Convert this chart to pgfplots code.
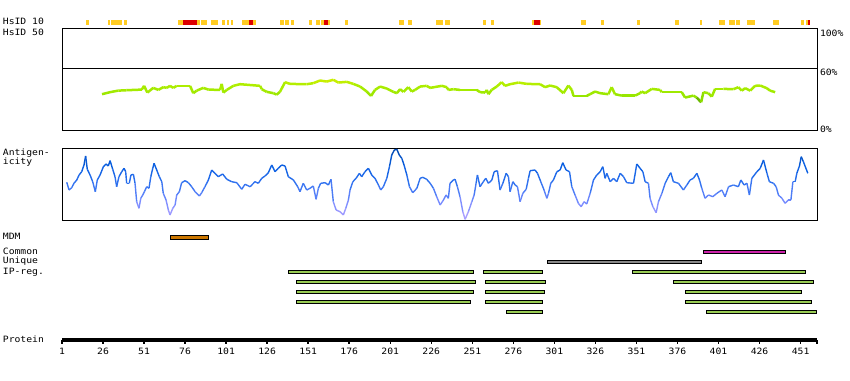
\documentclass[border=0pt]{standalone}
\usepackage{fontspec}
\setmainfont{DejaVu Sans Mono}[FakeStretch=1.12]
\usepackage{pgfplots}
\usepackage{pgfplotstable}
\pgfplotsset{compat=1.18}
\definecolor{hsy}{RGB}{255,204,34}
\definecolor{hsr}{RGB}{221,0,0}
\definecolor{mdm}{RGB}{204,119,0}
\definecolor{common}{RGB}{204,34,170}
\definecolor{unique}{RGB}{136,136,136}
\definecolor{ipreg}{RGB}{153,204,85}
\pgfplotsset{
  colormap={idmap}{rgb255(0cm)=(70,150,0) rgb255(1cm)=(150,230,0) rgb255(3cm)=(175,238,0) rgb255(4cm)=(212,240,0)},
  colormap={agmap}{rgb255(0cm)=(185,165,255) rgb255(1cm)=(120,140,255) rgb255(2cm)=(50,115,240) rgb255(3cm)=(10,95,225) rgb255(4cm)=(0,70,170)}
}
\newcommand\lbl{\fontsize{8.7}{9}\selectfont}
\newcommand\seg[5]{\addplot[draw=black, line width=0.9pt, fill=#5] coordinates {(#1,#3) (#2,#3) (#2,#4) (#1,#4)} -- cycle;}
\newcommand\hs[3]{\addplot[draw=none, fill=#3] coordinates {(#1,0) (#2,0) (#2,1) (#1,1)} -- cycle;}

\pgfplotstableread{
r p
25.4 35.1
30.3 37.1
35.3 38.6
40.4 39.0
49.6 39.6
51.0 43.3
53.0 36.7
56.6 41.3
59.7 39.3
62.7 42.0
64.8 41.3
66.8 43.3
68.8 41.3
70.9 43.3
79.0 43.3
81.0 36.1
83.1 38.6
87.1 41.3
90.2 39.6
97.3 39.3
98.3 45.2
99.3 36.7
101.4 39.3
105.4 43.3
109.5 44.9
121.7 43.3
122.7 40.0
125.7 37.4
129.8 36.1
131.8 34.7
133.8 37.4
136.9 46.9
139.9 45.2
150.1 44.9
154.1 45.9
158.2 48.5
162.3 47.5
166.3 49.2
169.4 46.5
174.5 47.2
178.5 45.2
182.6 42.6
186.7 37.7
189.3 33.4
191.7 39.3
194.8 42.6
198.9 40.6
202.9 37.4
205.0 36.1
207.0 40.0
209.0 37.4
212.0 42.0
214.1 37.7
216.1 39.3
219.2 42.6
223.2 43.3
225.3 41.3
232.4 43.3
235.4 42.0
236.4 39.3
239.5 40.0
243.5 39.3
253.7 39.3
255.7 37.1
258.8 36.7
259.8 39.3
260.8 35.1
262.8 39.3
265.9 42.6
268.9 46.9
270.9 43.3
274.0 44.9
279.1 46.5
284.2 45.2
292.3 44.9
295.3 42.0
298.4 43.6
302.4 42.0
306.5 36.1
309.5 43.6
311.6 39.3
312.6 33.4
320.7 33.4
322.7 35.1
325.8 37.7
328.8 36.1
333.9 35.1
335.9 42.0
337.9 35.1
342.1 33.7
350.2 33.7
353.2 36.1
354.2 37.7
356.3 36.1
360.3 40.3
365.4 39.3
366.4 37.1
378.6 37.1
380.6 31.8
385.7 33.7
387.7 31.8
390.4 27.2
391.8 37.1
394.8 36.1
396.9 32.7
398.9 40.3
404.0 40.3
410.1 40.0
413.1 42.0
415.2 38.6
417.2 41.0
420.3 38.6
423.3 43.3
426.4 43.6
430.4 41.0
432.4 38.6
435.5 37.1
}\identity

\pgfplotstableread{
r v
3.9 37.7
5.3 30
6.9 32.3
8.3 36.7
10.0 40
11.4 45
13.0 48.3
14.4 55
15.4 64
16.4 50.7
18.1 45
19.7 38.3
21.3 28.3
22.5 40
24.2 45
26.2 53.3
27.8 56
29.2 54
30.3 59.3
31.9 50.7
33.3 43.3
34.3 33.3
35.7 43.3
37.4 48.3
38.8 51.7
39.8 48.3
40.4 36.7
42.0 36.7
43.0 45
44.5 45.7
45.5 36.7
46.5 18.3
47.9 11.7
49.0 21.7
50.2 25
51.2 28.3
52.6 33.3
54.0 31.7
55.1 43.3
56.3 51.7
57.1 56.7
58.7 50
60.3 43.3
61.8 38.3
62.7 26.7
64.4 20
65.8 10
66.8 5
68.5 11.7
69.9 15
70.9 25
72.5 28.3
73.9 37.3
76.0 39.3
78.0 37.3
80.0 33.3
82.1 28.3
84.7 24
86.1 27.3
88.1 33.3
90.2 40
92.2 50
94.2 46.7
96.2 43.3
98.9 46
101.4 40.7
104.4 38.3
107.5 37.3
110.5 30.7
112.5 35.7
115.6 33.3
118.6 38.3
120.6 36.7
122.7 41.7
124.7 44
126.7 47.3
128.8 55
130.8 48.3
132.8 51.7
134.9 55
136.9 54
138.9 43.3
142.0 40
144.6 33.3
146.0 28.3
148.0 36.7
150.1 30
152.1 31.7
154.1 34
155.8 20.7
157.2 31.7
158.6 36.7
161.3 37.3
163.3 35
164.9 40.7
166.3 18.3
168.0 10
170.4 8.3
172.4 5
173.9 11.7
175.5 20
176.5 30
178.2 38.3
180.2 41.7
182.2 46.7
183.6 43.3
185.6 48.3
187.7 51.7
189.7 45
191.7 41.7
193.8 35
195.2 30
196.8 33.3
198.9 41.7
200.5 53.3
201.9 65
203.5 70
205.0 70.7
206.5 65
208.0 61.7
209.4 55
211.1 45
212.7 33.3
214.7 27.3
217.2 31.7
219.2 41.7
220.8 42.7
223.2 40.7
225.3 36.7
227.3 31.7
229.3 23.3
231.4 15
233.4 20
235.0 25
236.4 21.7
237.4 36.7
239.5 40
240.5 40.7
241.9 33.3
243.5 23.3
245.2 8.3
246.6 0.7
248.6 8.3
250.7 18.3
252.1 25
253.3 36.7
254.1 45
255.7 33.3
257.7 38.3
259.2 41.7
260.8 36.7
262.9 40
264.3 48.3
266.3 49.3
267.9 30
269.6 36.7
271.6 46.7
273.0 43.3
274.0 28.3
275.7 38.3
277.1 35
278.5 33.3
280.1 18.3
281.8 26.7
283.8 30.7
285.2 41.7
286.2 49.3
289.2 50
290.7 46.7
292.7 38.3
294.7 30
296.4 21.7
297.4 26.7
298.8 36.7
300.4 40
302.5 48.3
304.5 50
306.1 57.3
308.1 50
310.2 48.3
311.6 33.3
313.6 25
315.6 16.7
317.3 13.3
319.1 18.3
320.7 16
322.8 26.7
324.8 40
326.8 45
328.9 48.3
330.5 53.3
331.9 41.7
332.9 46.7
335.0 38.3
337.0 41.7
339.0 38.3
341.1 46.7
343.1 43.3
345.1 37.3
349.2 36.7
351.2 56
353.2 51.7
354.9 48.3
356.3 38.3
358.3 36.7
359.3 21.7
361.0 13.3
363.0 7.3
364.4 18.3
366.5 26.7
368.5 36.7
370.5 43.3
371.9 47.3
373.5 38.3
376.6 36.7
379.6 30
381.7 35
383.7 40
385.7 41.7
387.8 46.7
389.4 40
390.8 31.7
392.8 21.7
394.9 25
397.5 23.3
400.0 26.7
403.0 30
405.0 23.3
407.1 33.3
410.1 35
413.1 33.3
414.6 40
416.6 35
418.3 36.7
419.8 25
421.3 41.7
424.4 48.3
426.4 51.7
428.4 60
430.5 46.7
432.0 38.3
434.5 36.7
436.1 33.3
437.5 25
439.6 21.7
441.6 16.7
443.6 20
445.1 20
446.3 38.3
447.7 38.3
448.7 46.7
450.3 54
451.4 63.3
452.7 58.3
455.4 46.7
}\antigen

\begin{document}
\begin{tikzpicture}[font=\lbl]
\path[use as bounding box] (0,0) rectangle (850pt,380pt);

% left labels
\node[anchor=base west, inner sep=0pt] at (2.7pt,355pt) {HsID 10};
\node[anchor=base west, inner sep=0pt] at (2.7pt,344pt) {HsID 50};
\node[anchor=base west, inner sep=0pt] at (2.7pt,224.5pt) {Antigen-};
\node[anchor=base west, inner sep=0pt] at (2.7pt,215pt) {icity};
\node[anchor=base west, inner sep=0pt] at (2.7pt,140pt) {MDM};
\node[anchor=base west, inner sep=0pt] at (2.7pt,125.7pt) {Common};
\node[anchor=base west, inner sep=0pt] at (2.7pt,116pt) {Unique};
\node[anchor=base west, inner sep=0pt] at (2.7pt,106pt) {IP-reg.};
\node[anchor=base west, inner sep=0pt] at (2.7pt,38pt) {Protein};

% HsID 10 strip
\begin{axis}[at={(62pt,355.3pt)}, anchor=south west, scale only axis,
  width=755pt, height=4.8pt, xmin=1, xmax=461, ymin=0, ymax=1, hide axis]
\hs{15.6}{17.5}{hsy}
\hs{29}{30}{hsy}
\hs{30.9}{37.4}{hsy}
\hs{38.8}{40.6}{hsy}
\hs{71.7}{85.1}{hsy}
\hs{85.7}{89.4}{hsy}
\hs{91.8}{96.1}{hsy}
\hs{98.5}{100.3}{hsy}
\hs{101.5}{102.8}{hsy}
\hs{104}{105.2}{hsy}
\hs{110.7}{119.2}{hsy}
\hs{133.8}{136.3}{hsy}
\hs{136.9}{139.3}{hsy}
\hs{140.5}{142.4}{hsy}
\hs{151.5}{153.3}{hsy}
\hs{155.8}{158.2}{hsy}
\hs{158.8}{164.3}{hsy}
\hs{173.5}{175.3}{hsy}
\hs{206.4}{209.4}{hsy}
\hs{211.8}{214.3}{hsy}
\hs{228.9}{233.2}{hsy}
\hs{234.4}{237.4}{hsy}
\hs{257.5}{259.4}{hsy}
\hs{262.4}{264.3}{hsy}
\hs{287.4}{292.9}{hsy}
\hs{317.3}{320.3}{hsy}
\hs{329.5}{331.3}{hsy}
\hs{351.4}{353.2}{hsy}
\hs{374.5}{377}{hsy}
\hs{389.8}{391}{hsy}
\hs{401.4}{405}{hsy}
\hs{407.5}{411.1}{hsy}
\hs{411.7}{414.2}{hsy}
\hs{418.4}{423.3}{hsy}
\hs{434.3}{437.9}{hsy}
\hs{451.3}{453.2}{hsy}
\hs{454.4}{456.8}{hsy}
\hs{74.7}{83.3}{hsr}
\hs{115}{117.4}{hsr}
\hs{160.7}{163.1}{hsr}
\hs{288.6}{292.3}{hsr}
\hs{455.6}{456.8}{hsr}
\end{axis}

% identity panel
\begin{axis}[at={(62pt,250pt)}, anchor=south west, scale only axis,
  width=755pt, height=102pt, xmin=1, xmax=461, ymin=0, ymax=100,
  axis line style={line width=0.9pt, black},
  xtick=\empty, ytick={0.3,56.9,95.1}, yticklabels={0\%,60\%,100\%},
  yticklabel pos=right, major tick length=0pt,
  yticklabel style={anchor=west, inner sep=0pt, xshift=2.8pt, font=\lbl},
  colormap name=idmap, point meta min=27, point meta max=50]
\addplot[black, line width=0.9pt] coordinates {(1,60) (461,60)};
\addplot[mesh, line width=2.5pt, point meta=\thisrow{p}] table[x=r, y=p] {\identity};
\end{axis}

% antigenicity panel
\begin{axis}[at={(62pt,160pt)}, anchor=south west, scale only axis,
  width=755pt, height=72pt, xmin=1, xmax=461, ymin=0, ymax=72,
  axis line style={line width=0.9pt, black},
  xtick=\empty, ytick=\empty,
  colormap name=agmap, point meta min=0, point meta max=72]
\addplot[mesh, line width=1.4pt, point meta=\thisrow{v}] table[x=r, y=v] {\antigen};
\end{axis}

% feature bars
\begin{axis}[at={(62pt,54pt)}, anchor=south west, scale only axis,
  width=755pt, height=98pt, xmin=1, xmax=461, ymin=228, ymax=326,
  y dir=reverse, hide axis, clip=false]
\seg{67.0}{90.4}{235.5}{239.9}{mdm}
\seg{391.8}{442.0}{250.7}{253.9}{common}
\seg{296.8}{390.6}{260.7}{263.9}{unique}
\seg{138.9}{251.7}{270.7}{273.9}{ipreg}
\seg{257.7}{293.7}{270.7}{273.9}{ipreg}
\seg{348.5}{454.2}{270.7}{273.9}{ipreg}
\seg{143.8}{252.9}{280.7}{283.9}{ipreg}
\seg{258.9}{295.5}{280.7}{283.9}{ipreg}
\seg{373.5}{459.1}{280.7}{283.9}{ipreg}
\seg{143.8}{251.7}{290.7}{293.9}{ipreg}
\seg{258.9}{294.9}{290.7}{293.9}{ipreg}
\seg{380.8}{451.8}{290.7}{293.9}{ipreg}
\seg{143.8}{249.8}{300.7}{303.9}{ipreg}
\seg{258.9}{293.7}{300.7}{303.9}{ipreg}
\seg{380.8}{457.9}{300.7}{303.9}{ipreg}
\seg{271.8}{293.7}{310.7}{313.9}{ipreg}
\seg{393.6}{460.9}{310.7}{313.9}{ipreg}
\end{axis}

% protein axis
\begin{axis}[at={(62pt,40pt)}, anchor=south west, scale only axis,
  width=755pt, height=5pt, xmin=1, xmax=461, ymin=0, ymax=1,
  axis x line=bottom, axis y line=none,
  x axis line style={line width=3.4pt, -, black},
  xtick={1,26,...,451}, extra x ticks={461}, extra x tick labels={},
  tick align=outside, major tick length=3.7pt,
  every tick/.style={black, line width=1.5pt},
  /pgf/number format/assume math mode=true,
  xticklabel style={font=\lbl, inner sep=0pt, yshift=-4.5pt}]
\addplot[draw=none] coordinates {(1,0) (461,0)};
\end{axis}
\end{tikzpicture}
\end{document}
